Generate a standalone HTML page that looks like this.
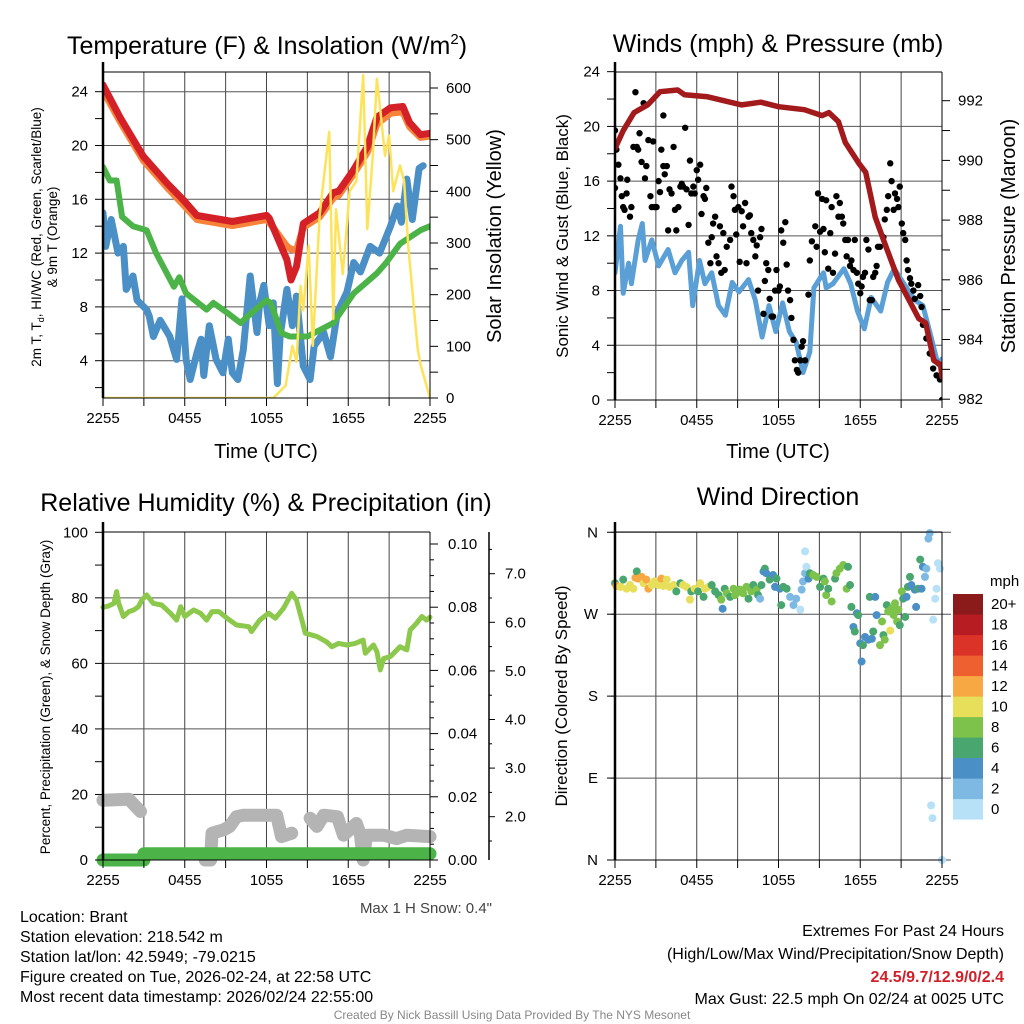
<!DOCTYPE html>
<html><head><meta charset="utf-8"><title>Mesonet Station Meteogram - Brant</title>
<style>
html,body{margin:0;padding:0;background:#fff;}
svg{display:block;font-family:"Liberation Sans",Arial,sans-serif;}
</style></head>
<body>
<svg id="chart" width="1024" height="1024" viewBox="0 0 1024 1024" xmlns="http://www.w3.org/2000/svg">
<defs>
<clipPath id="c1"><rect x="103" y="72" width="327" height="326"/></clipPath>
<clipPath id="c2"><rect x="615" y="72" width="327" height="328"/></clipPath>
<clipPath id="c4"><rect x="611" y="528" width="336" height="336"/></clipPath>
</defs>
<rect x="0" y="0" width="1024" height="1024" fill="#fff"/>
<g id="grid"></g>
<g id="marks"></g>
<g id="axes"></g>

<text x="267" y="54" font-size="25" text-anchor="middle">Temperature (F) &amp; Insolation (W/m<tspan font-size="15" dy="-10">2</tspan><tspan dy="10">)</tspan></text>
<text x="778" y="52" font-size="25" text-anchor="middle">Winds (mph) &amp; Pressure (mb)</text>
<text x="266" y="511" font-size="25" text-anchor="middle">Relative Humidity (%) &amp; Precipitation (in)</text>
<text x="778" y="505" font-size="25" text-anchor="middle">Wind Direction</text>

<text x="266" y="458" font-size="20" text-anchor="middle">Time (UTC)</text>
<text x="778" y="458" font-size="20" text-anchor="middle">Time (UTC)</text>

<text transform="translate(41,237) rotate(-90)" font-size="13.5" text-anchor="middle">2m T, T<tspan font-size="9" dy="3">d</tspan><tspan dy="-3">, HI/WC (Red, Green, Scarlet/Blue)</tspan></text>
<text transform="translate(57,237) rotate(-90)" font-size="13.5" text-anchor="middle">&amp; 9m T (Orange)</text>
<text transform="translate(501,236) rotate(-90)" font-size="20" text-anchor="middle">Solar Insolation (Yellow)</text>
<text transform="translate(568,236) rotate(-90)" font-size="17" text-anchor="middle">Sonic Wind &amp; Gust (Blue, Black)</text>
<text transform="translate(1015,236) rotate(-90)" font-size="20" text-anchor="middle">Station Pressure (Maroon)</text>
<text transform="translate(50,697) rotate(-90)" font-size="13.5" text-anchor="middle">Percent, Precipitation (Green), &amp; Snow Depth (Gray)</text>
<text transform="translate(567,696) rotate(-90)" font-size="17" text-anchor="middle">Direction (Colored By Speed)</text>

<text x="492" y="913" font-size="15" fill="#444" text-anchor="end">Max 1 H Snow: 0.4"</text>
<text x="990" y="586" font-size="15">mph</text>

<g font-size="16">
<text x="20" y="922">Location: Brant</text>
<text x="20" y="942">Station elevation: 218.542 m</text>
<text x="20" y="962">Station lat/lon: 42.5949; -79.0215</text>
<text x="20" y="982">Figure created on Tue, 2026-02-24, at 22:58 UTC</text>
<text x="20" y="1002">Most recent data timestamp: 2026/02/24 22:55:00</text>
</g>
<g font-size="16" text-anchor="end">
<text x="1004" y="936">Extremes For Past 24 Hours</text>
<text x="1004" y="959">(High/Low/Max Wind/Precipitation/Snow Depth)</text>
<text x="1004" y="982" fill="#d0202a" font-weight="bold">24.5/9.7/12.9/0/2.4</text>
<text x="1004" y="1004">Max Gust: 22.5 mph On 02/24 at 0025 UTC</text>
</g>
<text x="512" y="1019" font-size="12" fill="#888" text-anchor="middle">Created By Nick Bassill Using Data Provided By The NYS Mesonet</text>
</svg>
<script>
// ---------- DATA ----------
const timeLabels = ["2255","0455","1055","1655","2255"];
const redHours = [0,1.25,2.96,4.7,5.9,6.9,9.5,12,12.2,13.5,13.8,14.2,14.7,15.9,16.9,17.3,18.4,19.4,20.1,21.1,22,22.5,23.3,24];
const redTemp  = [24.5,22.1,19.2,17.2,15.95,14.8,14.35,14.8,14.6,11.5,10,11,14.2,15,16.5,16.6,18.2,19.9,22.1,22.8,22.9,21.7,20.8,20.9];
const orangeTemp=[24.1,21.8,18.9,16.9,15.6,14.5,14.05,14.5,14.3,12.5,12.3,12.2,13.9,14.7,16.1,16.3,17.9,19.5,21.6,22.4,22.5,21.4,20.6,20.7];
const greenHours=[0,0.5,1,1.4,2.2,3.2,3.9,5.2,5.6,6.1,7.6,8.1,9.2,10.1,10.5,12,12.3,13.1,13.7,15,16.9,18.4,20.1,20.8,21.8,23.3,24];
const greenTemp =[18.4,17.4,17.4,14.7,14,13.7,12,9.5,10.2,9,7.8,8.3,7.5,6.8,7.2,8.5,8.3,6.05,5.8,5.8,6.8,9,10.5,11.3,12.7,13.7,14];
const blueHours=[0,0.2,0.6,1.1,1.5,1.7,2.2,2.5,3.2,3.4,3.7,4.2,4.9,5.4,5.8,6.1,6.4,6.9,7.2,7.4,7.8,8.3,8.8,9.2,9.5,9.9,10.3,10.8,11.3,11.5,11.8,12.2,12.5,12.8,13,13.5,13.9,14.2,14.7,15.2,15.5,16.2,16.7,17.2,17.9,18.4,18.9,19.6,20.3,21.1,21.6,21.9,22.3,22.7,23.2,23.5];
const blueTemp =[15,12.5,14.5,12,12.5,9.3,10.3,8.5,7.8,7.3,5.8,7,5.8,4.1,8.6,4.1,2.6,4.6,5.6,2.9,6.6,4.1,3.1,5.6,3.1,2.6,4.8,10.3,6.1,8.3,9.6,6.6,8.3,2.3,5.8,9.3,6.6,8.8,3.6,2.6,5.1,6.1,4.3,7.6,9.1,11.3,10.6,12.5,12,14,15.5,14.3,17.5,14.5,18.3,18.5];
const solarHours=[0,12.5,13.4,13.9,14.2,14.5,14.7,15.1,15.4,15.9,16.4,16.6,16.9,17.1,17.6,18.1,18.6,19.1,19.4,19.8,20.1,20.4,20.7,21,21.3,21.8,22.1,22.4,22.8,23.1,23.3,24];
const solarVals =[0,0,24,101,70,217,170,295,101,353,469,515,153,365,240,400,420,625,327,469,618,547,469,508,400,450,420,295,179,95,65,0];
const presHours=[0,0.6,1.4,2.4,3.3,4.6,5.1,6.8,9.3,10.7,12,13.9,15.2,15.7,16.4,16.9,17.9,18.4,19.1,19.9,20.8,22.3,22.8,23.4,23.9,24];
const presVals =[990.4,991.0,991.6,991.86,992.3,992.36,992.2,992.13,991.86,991.95,991.8,991.7,991.5,991.6,991.3,990.6,989.9,989.6,988.1,987.1,986,984.7,984.55,983.3,983.15,982.75];
const windHours=[0,0.4,0.6,1,1.2,1.7,2,2.2,2.7,3.2,3.9,4.4,4.9,5.4,5.7,6.2,6.6,7.1,7.6,8.1,8.6,9.1,9.8,10.3,10.8,11.3,11.8,12.3,12.8,13.3,13.8,14.3,14.6,15.3,15.5,16,16.8,17.3,17.8,18.3,18.8,19.5,20,20.5,21.2,22,22.6,23.2,23.7,24];
const windVals =[9.3,12.7,7.8,10,8.5,11.7,12.9,10.2,11.7,9.8,11,9.3,10.2,10.8,6.9,10.2,8.5,9.3,6.9,6.2,8.6,7.9,8.8,7.3,4.6,6.9,5,7.1,5,4.2,2,3.5,8.2,9.3,8.2,8.5,9.6,8.5,6.5,5.2,7.5,6.5,8.6,9.6,8.5,7.3,6.9,4.6,2.6,3];
const gustHours=[0,0,0.1,0.25,0.4,0.5,0.6,0.7,0.85,0.9,1.1,1.2,1.35,1.5,1.6,1.7,1.8,1.95,2.1,2.2,2.3,2.45,2.6,2.7,2.8,2.9,3.05,3.2,3.3,3.4,3.55,3.55,3.65,3.8,3.9,4,4.15,4.3,4.4,4.5,4.65,4.8,4.9,5,5.15,5.25,5.4,5.5,5.6,5.75,5.85,6,6.1,6.25,6.35,6.5,6.6,6.7,6.85,7,7.1,7.2,7.35,7.45,7.6,7.7,7.8,7.95,8.05,8.2,8.45,8.55,8.7,8.8,8.9,9.05,9.15,9.3,9.4,9.55,9.65,9.8,9.9,10,10.15,10.3,10.4,10.5,10.65,10.75,10.9,11,11.1,11.25,11.35,11.5,11.6,11.75,11.85,12,12.1,12.2,12.35,12.5,12.6,12.7,12.85,12.95,13.1,13.2,13.35,13.45,13.6,13.7,13.8,13.95,14.2,14.3,14.45,14.7,14.8,14.9,15.05,15.2,15.3,15.4,15.5,15.65,15.8,15.9,16,16.15,16.25,16.4,16.5,16.65,16.75,16.9,17,17.1,17.25,17.35,17.5,17.6,17.75,17.85,18,18.1,18.2,18.35,18.45,18.6,18.7,18.85,18.95,19.1,19.2,19.3,19.45,19.7,19.8,19.95,20.05,20.2,20.3,20.45,20.55,20.7,20.8,20.9,21.05,21.15,21.3,21.4,21.5,21.65,21.75,21.9,22,22.25,22.4,22.5,22.6,22.85,23.1,23.35,23.6,23.85,24];
const gustVals =[15.5,19.7,18.3,17.2,16.2,14.9,14.1,13.9,15.1,16.1,13.4,14.1,18.5,22.5,18.5,18.3,19.5,17.4,21.7,16.2,17.1,19,14.9,14.1,18.9,14.1,14.1,16,15.2,18.3,20.8,17.1,16.5,17.1,12.4,15.4,15.1,18.5,13.9,12.4,14.1,15.6,15.8,15.6,19.9,15.4,12.8,17.5,15.1,15.6,15.1,16.8,16.1,17.2,13.6,14.9,14.7,15.5,11.5,10,11.9,12.9,13.4,10.5,10,12.7,9.3,12.2,9.5,11.2,11.7,15.6,14.9,13.9,12.1,14.1,10.1,13.8,12.7,14.4,10,13.4,13.5,12.2,11.7,10.5,11.3,8,11.9,12.5,6.3,8.7,10,9.5,7.4,6.1,6.1,8,9.5,8,8.3,12.4,11.5,13,9.9,8,7.3,6,4.4,2.9,2.2,2,2.9,3.9,4.3,2.9,7.7,10.2,11.6,12.7,11.2,15.1,12.3,14.7,12.5,10.8,14.6,9.6,12.2,14.1,9.3,10.7,14.9,13.4,14.4,13.4,12.9,11.7,10.5,11.7,9.8,10.2,9.5,11.7,9.3,8.5,7.8,8.3,9,9.3,11.7,11,7.3,7.3,9,9.3,9.8,11.2,11.2,11.9,13.2,13.9,14.9,17.3,16,13.9,15.1,14.7,14.1,15.6,12.9,12.2,11.7,10.2,9.5,8.9,8.5,8,7.4,8.4,7.6,6.8,5.5,4.5,3.4,2.3,1.8,1.5,0];
const rhHours=[0,0.4,0.8,1,1.15,1.5,1.9,2.25,2.6,2.85,3.2,3.7,4.3,4.95,5.4,5.7,6,6.65,7.15,7.6,8,8.5,9.1,9.8,10.7,10.9,11.5,12.15,12.65,13.25,13.85,14.2,14.6,14.85,15.7,16.4,16.8,17.3,17.9,18.5,19.1,19.25,19.85,20.1,20.35,20.6,21.1,21.8,22.3,22.55,23,23.4,23.75,24];
const rhVals =[77.1,77.5,78.3,81.9,78.3,74.3,75.8,76.3,77.3,79.3,80.9,78.3,77.8,75.3,73.2,77.3,74.3,76.3,75.3,73.2,75.8,75.8,73.8,71.7,71.2,69.7,73.2,75.3,73.8,76.8,81.4,79.3,73.2,69.2,68.2,66.6,65.1,66.1,65.6,66.1,67.1,63.1,65.6,63.6,58,61.5,62.1,65.1,64.1,70.2,72.2,74.3,73.2,74.1];
const precipHours=[0,3,3,24];
const precipVals =[0,0,0.002,0.002];
const snowHours=[0,1.9,2.4,2.75,null,7.5,7.9,8,8.35,8.85,9.3,9.8,10.3,11.8,12.75,13.1,13.85,null,15.2,15.7,16.2,17.2,17.65,18.6,18.9,19.1,19.35,20.6,21.55,22.3,24];
const snowDepth=[2.34,2.36,2.21,2.11,null,1.11,1.11,1.66,1.69,1.73,1.80,2.0,2.03,2.03,2.03,1.59,1.66,null,1.97,1.80,2.03,2.0,1.62,1.86,1.62,1.11,1.62,1.62,1.55,1.62,1.59];
const dirHours=[0,0.1,0.4,0.6,0.85,1.1,1.35,1.5,1.6,1.7,1.95,2.1,2.3,2.45,2.7,2.9,3.2,3.4,3.55,3.8,4,4.3,4.5,4.8,5,5.25,5.5,5.6,5.85,6.1,6.25,6.5,6.6,6.85,7.1,7.35,7.6,7.8,7.9,8.05,8.2,8.45,8.7,8.8,8.9,9.15,9.4,9.65,9.8,10,10.15,10.4,10.5,10.65,10.75,10.9,11,11.1,11.35,11.6,11.75,11.85,12.1,12.2,12.35,12.6,12.85,13.1,13.3,13.6,13.7,13.8,13.95,13.95,14.05,14.2,14.3,14.55,14.8,15.05,15.3,15.4,15.5,15.65,15.9,16.15,16.25,16.5,16.75,17,17.1,17.25,17.35,17.5,17.6,17.75,17.85,18,18.1,18.2,18.35,18.6,18.7,18.85,18.95,19.1,19.2,19.45,19.6,19.7,19.8,19.95,20.05,20.2,20.3,20.45,20.55,20.7,20.8,20.9,21.05,21.15,21.3,21.4,21.5,21.65,21.75,22,22.1,22.25,22.4,22.5,22.6,22.75,22.85,23,23.1,23.2,23.3,23.35,23.5,23.6,23.7,23.85,24];
const dirDeg =[304,301,300,308,298,302,298,310,317,309,311,304,308,298,302,306,302,309,301,308,300,302,295,304,302,300,286,295,298,295,304,289,298,300,302,295,291,286,276,298,293,289,298,291,293,297,293,300,287,295,302,297,291,287,302,317,320,315,308,313,300,309,298,280,300,298,289,280,287,275,297,306,339,315,322,309,315,313,311,300,309,306,291,298,284,309,315,320,324,298,322,302,278,256,251,271,269,238,218,236,245,242,289,243,251,289,269,236,262,247,242,280,273,252,276,269,282,262,275,258,295,287,267,289,300,311,302,297,278,298,330,298,322,311,320,353,359,60,46,264,287,298,326,320,0];
const dirSpeed=[7,13,11,7,11,11,11,13,7,13,13,11,13,13,11,11,11,13,11,11,11,11,7,7,11,11,11,7,11,7,11,7,11,11,7,7,7,9,5,7,9,7,9,9,9,9,9,9,7,9,7,9,7,3,7,5,7,5,7,5,5,7,5,7,7,7,3,3,3,1,3,3,1,3,1,5,7,9,9,7,7,9,9,7,9,7,9,9,9,9,7,7,7,5,7,5,7,5,5,7,5,5,7,5,7,5,5,9,9,7,9,7,9,11,9,9,9,9,9,7,9,7,7,5,7,7,5,5,5,7,7,5,5,3,3,3,3,1,1,1,1,1,1,1,1];
const colorbarLabels=["0","2","4","6","8","10","12","14","16","18","20+"];
const colorbarColors=["#b7e1f6","#7db9e3","#4a8fc6","#4aa66f","#7dc24b","#e7df5a","#f7a843","#ee6030","#db3327","#b81c23","#8b1a1a"];

// ---------- SCALES ----------
const NS="http://www.w3.org/2000/svg";
const x1=h=>103+h*327/24, x2=h=>615+h*327/24;
const yT=v=>91.7+(24-v)*13.45, ySol=v=>398-v*310/600;
const yW=v=>400-v*13.68, yP=p=>100.7+(992-p)*29.85;
const yRH=v=>860-v*3.277, yPr=v=>860-v*3160, ySn=s=>816.7-(s-2)*48.6;
const yD=d=>860-d*0.9104;
const grid=document.getElementById('grid'), marks=document.getElementById('marks'), axes=document.getElementById('axes');
function mk(parent,tag,attrs){const e=document.createElementNS(NS,tag);for(const k in attrs)e.setAttribute(k,attrs[k]);parent.appendChild(e);return e;}
function pathD(hs,vs,fx,fy){let d="",pen=false;for(let i=0;i<hs.length;i++){if(hs[i]===null||vs[i]===null){pen=false;continue;}d+=(pen?"L":"M")+fx(hs[i]).toFixed(1)+","+fy(vs[i]).toFixed(1);pen=true;}return d;}

// ---------- GRID ----------
function vgrid(x0,top,bot){for(let k=0;k<=8;k++){const l=mk(grid,'line',{x1:x0+k*327/8,x2:x0+k*327/8,y1:top,y2:bot,stroke:'#444','stroke-width':1});

}}
vgrid(103,72,398); vgrid(615,72,400); vgrid(103,532,860); vgrid(615,532,860);
function hgrid(xa,xb,y){const l=mk(grid,'line',{x1:xa,x2:xb,y1:y,y2:y,stroke:'#555','stroke-width':1});

}
[4,8,12,16,20,24].forEach(v=>hgrid(103,430,yT(v)));
[4,8,12,16,20].forEach(v=>hgrid(615,942,yW(v)));
[20,40,60,80].forEach(v=>hgrid(103,430,yRH(v)));
[90,180,270].forEach(v=>hgrid(611,951,yD(v)));
hgrid(611,951,yD(360)); hgrid(611,951,yD(0));

// ---------- PANEL 1 ----------
const g1=mk(marks,'g',{'clip-path':'url(#c1)'});


const ls={fill:'none','stroke-linejoin':'round','stroke-linecap':'round'};
let p;
p=mk(g1,'path',Object.assign({d:pathD(blueHours,blueTemp,x1,yT),stroke:'#4a8fc6','stroke-width':7},ls));


p=mk(g1,'path',Object.assign({d:pathD(greenHours,greenTemp,x1,yT),stroke:'#4bb347','stroke-width':6},ls));


p=mk(g1,'path',Object.assign({d:pathD(redHours,orangeTemp,x1,yT),stroke:'#f7823a','stroke-width':7},ls));


p=mk(g1,'path',Object.assign({d:pathD(redHours,redTemp,x1,yT),stroke:'#d42027','stroke-width':7},ls));


p=mk(g1,'path',Object.assign({d:pathD(solarHours,solarVals,x1,ySol),stroke:'#fde35a','stroke-width':2.5},ls));



// ---------- PANEL 2 ----------
const g2=mk(marks,'g',{'clip-path':'url(#c2)'});


p=mk(g2,'path',Object.assign({d:pathD(windHours,windVals,x2,yW),stroke:'#5a9fd6','stroke-width':5},ls));


for(let i=0;i<gustHours.length;i++){const c=mk(g2,'circle',{cx:x2(gustHours[i]),cy:yW(gustVals[i]),r:3.2,fill:'#000'});

}
p=mk(g2,'path',Object.assign({d:pathD(presHours,presVals,x2,yP),stroke:'#a31a1c','stroke-width':5.5},ls));



// ---------- PANEL 3 ----------
const g3=mk(marks,'g',{});


p=mk(g3,'path',Object.assign({d:pathD(snowHours,snowDepth,x1,ySn),stroke:'#b4b4b4','stroke-width':13},ls));


p=mk(g3,'path',Object.assign({d:pathD(precipHours,precipVals,x1,yPr),stroke:'#4bb347','stroke-width':13},ls));


p=mk(g3,'path',Object.assign({d:pathD(rhHours,rhVals,x1,yRH),stroke:'#8cc84b','stroke-width':5},ls));



// ---------- PANEL 4 ----------
const g4=mk(marks,'g',{'clip-path':'url(#c4)'});


for(let i=0;i<dirHours.length;i++){const bin=Math.min(10,Math.floor(dirSpeed[i]/2));
const c=mk(g4,'circle',{cx:x2(dirHours[i]),cy:yD(dirDeg[i]),r:4,fill:colorbarColors[bin]});

}
for(let i=0;i<colorbarColors.length;i++){const top=594+(10-i)*20.5;
const r=mk(axes,'rect',{x:953,y:top,width:30,height:20.6,fill:colorbarColors[i]});


const t=mk(axes,'text',{x:991,y:top+15,'font-size':15});t.textContent=colorbarLabels[i];

}

// ---------- AXES ----------
function line(a,b,c,d,w){const l=mk(axes,'line',{x1:a,y1:b,x2:c,y2:d,stroke:'#000','stroke-width':w||1});

}
function label(x,y,s,anchor){const t=mk(axes,'text',{x:x,y:y,'font-size':15,'text-anchor':anchor||'middle'});t.textContent=s;

}
[[103,72,398],[615,72,400],[103,532,860],[615,532,860]].forEach(f=>{line(f[0],f[1],f[0]+327,f[1]);line(f[0],f[2],f[0]+327,f[2]);line(f[0],f[1]-10,f[0],f[2],2.5);line(f[0]+327,f[1],f[0]+327,f[2]);});
line(489,532,489,860,1.5);
[[103,398],[615,400],[103,860],[615,860]].forEach(f=>{for(let k=0;k<=8;k++){const x=f[0]+k*327/8;line(x,f[1],x,f[1]+8);}
timeLabels.forEach((s,i)=>label(f[0]+i*327/4,f[1]+25,s));});
for(let v=2;v<=24;v+=2){line(95,yT(v),103,yT(v));if(v%4===0)label(88,yT(v)+5,String(v),'end');}
for(let v=0;v<=600;v+=50){line(430,ySol(v),438,ySol(v));if(v%100===0)label(446,ySol(v)+5,String(v),'start');}
for(let v=0;v<=24;v+=2){line(607,yW(v),615,yW(v));if(v%4===0)label(600,yW(v)+5,String(v),'end');}
for(let v=982;v<=992.5;v+=1){line(942,yP(v),950,yP(v));if(v%2===0)label(958,yP(v)+5,String(v),'start');}
for(let v=0;v<=100;v+=10){line(95,yRH(v),103,yRH(v));if(v%20===0)label(88,yRH(v)+5,String(v),'end');}
for(let v=0;v<=20;v++){const val=v*0.005;line(430,yPr(val),v%4===0?438:434,yPr(val));if(v%4===0)label(448,yPr(val)+5,val.toFixed(2),'start');}
for(let v=1.5;v<=7.5;v+=0.5){const y=ySn(v);if(y<534||y>860)continue;line(489,y,v%1===0?495:492,y);if(v%1===0)label(505,y+5,v.toFixed(1),'start');}
["N","E","S","W","N"].forEach((s,i)=>{const y=yD(i*90);line(607,y,615,y);label(598,y+5,s,'end');});
</script>
</body></html>
